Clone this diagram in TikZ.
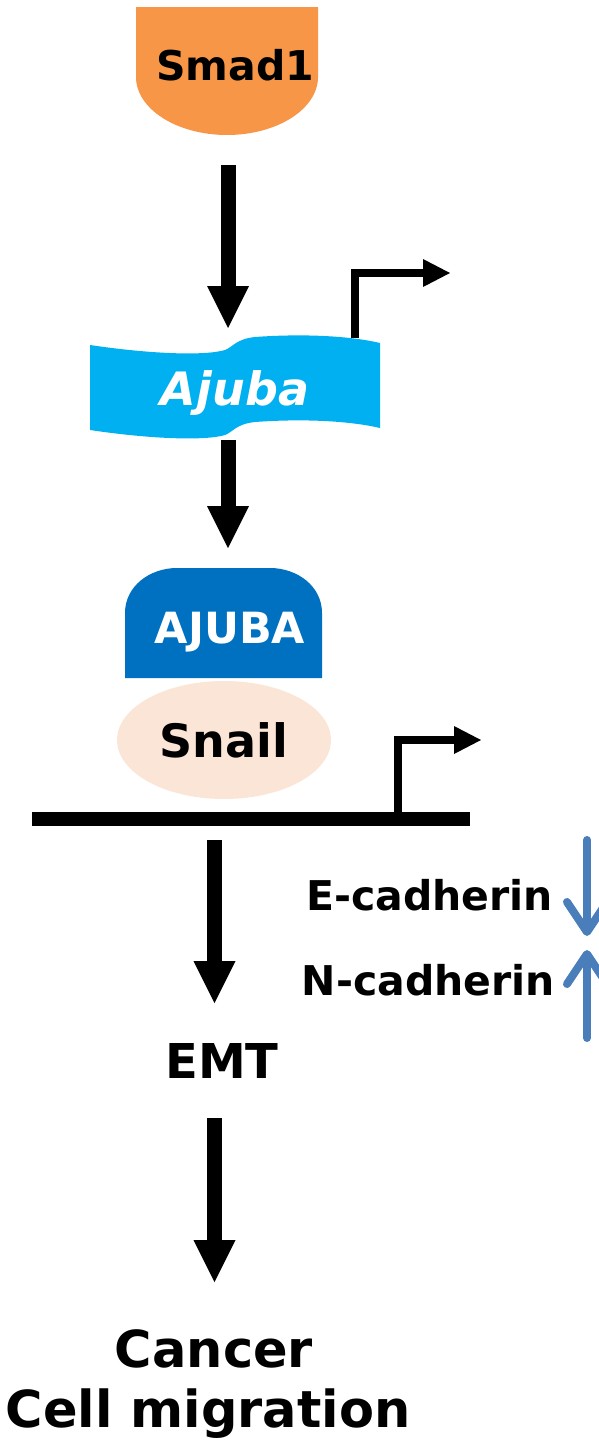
\documentclass[tikz,border=0pt]{standalone}
\usepackage{fontspec}
\setmainfont{DejaVu Sans}
\usepackage{tikz}
\usetikzlibrary{arrows.meta}
\usetikzlibrary{shapes.geometric}

\definecolor{smadorange}{HTML}{F79646}
\definecolor{ajubacyan}{HTML}{00B0F0}
\definecolor{ajubablue}{HTML}{0070C0}
\definecolor{snailpeach}{HTML}{FBE5D6}
\definecolor{cadblue}{HTML}{4A7EBB}

\tikzset{
  lbl/.style={inner sep=0pt, anchor=base, font=\bfseries},
  fat/.style={line width=15pt, -{Triangle[length=42pt,width=42pt,line width=0pt]}},
  tss/.style={line width=8pt, line join=miter, -{Triangle[length=27pt,width=28pt,line width=0pt]}},
  cadarrow/.style={line width=8pt, draw=cadblue, line cap=round,
    -{Straight Barb[length=30pt,width=40pt,round]}}
}

\begin{document}
\begin{tikzpicture}[x=1pt,y=-1pt]
      \useasboundingbox[fill=white] (0,0) rectangle (599,1440);

      % Smad1
      \fill[smadorange] (136,7) -- (318,7) -- (318,77)
            .. controls (318,109) and (277,135) .. (227,135)
            .. controls (177,135) and (136,109) .. (136,77) -- cycle;
      \node[lbl, font=\fontsize{41}{48}\selectfont\bfseries] (smad) at (235,80) {Smad1};

      % Ajuba gene
      \fill[ajubacyan] (90,345) .. controls (150,354) and (205,356) .. (225,350)
            .. controls (233,347) and (236,339) .. (255,337)
            .. controls (310,333) and (355,337) .. (380,343)
            -- (380,428)
            .. controls (355,422) and (310,418) .. (255,422)
            .. controls (236,424) and (233,432) .. (225,435)
            .. controls (205,441) and (150,439) .. (90,430) -- cycle;
      \node[lbl, text=white, font=\fontsize{46}{54}\selectfont\bfseries\itshape] (ajuba) at (235,405) {Ajuba};
      \coordinate (tssA) at (355,338);
      \coordinate (tssAcorner) at (355,273);
      \coordinate (tssAend) at (450,273);
      \draw[tss] (tssA) -- (tssAcorner) -- (tssAend);

      % AJUBA on Snail
      \fill[ajubablue] (125,678) -- (125,613) .. controls (125,586) and (150,568) .. (177,568)
            -- (270,568) .. controls (297,568) and (322,586) .. (322,613) -- (322,678) -- cycle;
      \node[lbl, text=white, font=\fontsize{43}{50}\selectfont\bfseries] (AJUBA) at (230,643) {AJUBA};
      \node[ellipse, fill=snailpeach, minimum width=214pt, minimum height=118pt, inner sep=0pt,
            font=\fontsize{46}{54}\selectfont\bfseries] (snail) at (224,740) {Snail};

      % DNA
      \coordinate (dnaL) at (32,819);
      \coordinate (dnaR) at (470,819);
      \draw[line width=14pt] (dnaL) -- (dnaR);
      \coordinate (tssB) at (398,819);
      \coordinate (tssBcorner) at (398,740);
      \coordinate (tssBend) at (481,740);
      \draw[tss] (tssB) -- (tssBcorner) -- (tssBend);

      % pathway arrows
      \coordinate (smadout)  at (228,165);
      \coordinate (ajubain)  at (228,328);
      \coordinate (ajubaout) at (228,440);
      \coordinate (cplxin)   at (228,548);
      \coordinate (dnaout)   at (214.5,840);
      \coordinate (emtin)    at (214.5,1003);
      \coordinate (emtout)   at (214.5,1118);
      \coordinate (migin)    at (214.5,1282);
      \draw[fat] (smadout)  -- (ajubain);
      \draw[fat] (ajubaout) -- (cplxin);
      \draw[fat] (dnaout)   -- (emtin);
      \draw[fat] (emtout)   -- (migin);

      \node[lbl, font=\fontsize{48}{56}\selectfont\bfseries] (emt) at (222,1078) {EMT};
      \node[lbl, font=\fontsize{51}{60}\selectfont\bfseries] (cancer) at (214,1367) {Cancer};
      \node[lbl, font=\fontsize{51}{60}\selectfont\bfseries] (cellmig) at (208,1427) {Cell migration};

      % cadherins
      \node[lbl, anchor=base east, font=\fontsize{41}{48}\selectfont\bfseries] (ecad) at (553,910) {E-cadherin};
      \node[lbl, anchor=base east, font=\fontsize{41}{48}\selectfont\bfseries] (ncad) at (555,995) {N-cadherin};
      \coordinate (edown1) at (587,840);
      \coordinate (edown2) at (587,936);
      \coordinate (nup1)   at (587,1038);
      \coordinate (nup2)   at (587,950);
      \draw[cadarrow] (edown1) -- (edown2);
      \draw[cadarrow] (nup1) -- (nup2);
\end{tikzpicture}
\end{document}
